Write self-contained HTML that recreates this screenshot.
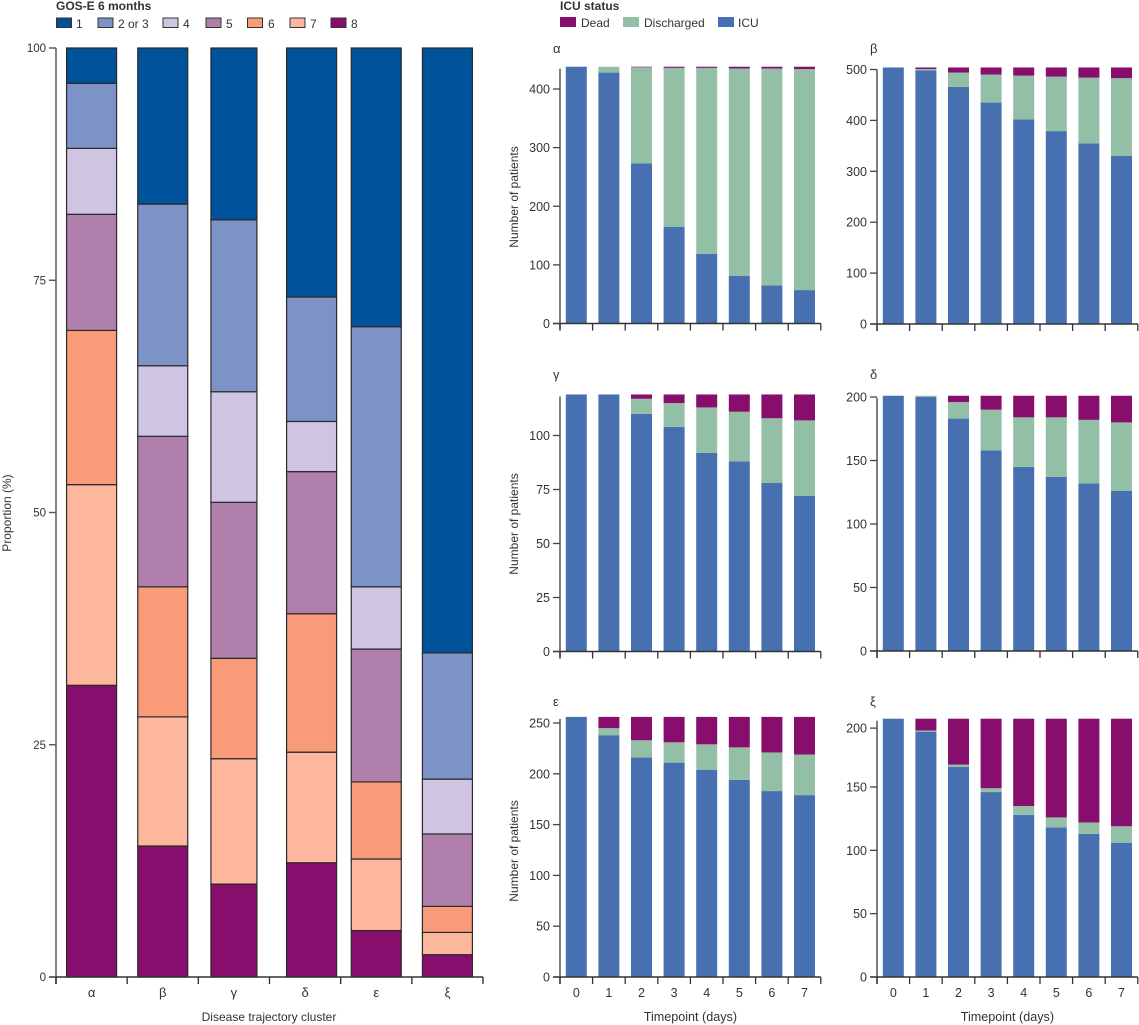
<!DOCTYPE html>
<html lang="en">
<head>
<meta charset="utf-8">
<title>GOS-E at 6 months and ICU status by disease trajectory cluster</title>
<style>
html,body{margin:0;padding:0;background:#fff;}
body{width:1139px;height:1025px;overflow:hidden;}
svg{display:block;}
text{font-family:"Liberation Sans",sans-serif;font-size:12px;fill:#333;}
.title{font-weight:bold;font-size:12px;}
.greek{font-size:13px;}
.tick-left{font-size:11.5px;}
.tick-right{font-size:12.5px;}
.time-title{font-size:12.6px;}
</style>
</head>
<body>
<svg id="figure" width="1139" height="1025" viewBox="0 0 1139 1025" xmlns="http://www.w3.org/2000/svg">
  <g>
    <text class="title" x="56" y="10">GOS-E 6 months</text>
    <g><rect x="56.5" y="18" width="15" height="9.5" fill="#00529b" stroke="#333"/><text x="76" y="28">1</text></g>
    <g><rect x="98" y="18" width="15" height="9.5" fill="#7d92c6" stroke="#333"/><text x="118" y="28">2 or 3</text></g>
    <g><rect x="163" y="18" width="15" height="9.5" fill="#cfc5e2" stroke="#333"/><text x="183" y="28">4</text></g>
    <g><rect x="206" y="18" width="15" height="9.5" fill="#b07fab" stroke="#333"/><text x="226" y="28">5</text></g>
    <g><rect x="247.5" y="18" width="15" height="9.5" fill="#f99a78" stroke="#333"/><text x="268" y="28">6</text></g>
    <g><rect x="290" y="18" width="15" height="9.5" fill="#fdb79c" stroke="#333"/><text x="310" y="28">7</text></g>
    <g><rect x="331" y="18" width="15" height="9.5" fill="#870e6d" stroke="#333"/><text x="351" y="28">8</text></g>
  </g>
  <g>
    <text class="title" x="560" y="10">ICU status</text>
    <g><rect x="560" y="17" width="16" height="10" fill="#870e6d"/><text x="581" y="27">Dead</text></g>
    <g><rect x="623" y="17" width="16" height="10" fill="#93bfa6"/><text x="644" y="27">Discharged</text></g>
    <g><rect x="718" y="17" width="16" height="10" fill="#4670b0"/><text x="738" y="27">ICU</text></g>
  </g>
  <text x="0" y="0" transform="translate(11,513) rotate(-90)" text-anchor="middle">Proportion (%)</text>
  <text x="269" y="1021" text-anchor="middle">Disease trajectory cluster</text>
</svg>
<script>
// ---- Left chart data (percentage of each GOS-E level, per cluster) ----
const clusterLabels = ['α', 'β', 'γ', 'δ', 'ε', 'ξ'];
const proportionTicks = [0, 25, 50, 75, 100];
const gos8 = [31.4, 14.1, 10.0, 12.3, 5.0, 2.4];
const gos7 = [21.6, 13.9, 13.5, 11.9, 7.7, 2.4];
const gos6 = [16.6, 14.0, 10.8, 14.9, 8.3, 2.8];
const gos5 = [12.5, 16.2, 16.8, 15.3, 14.3, 7.8];
const gos4 = [7.1, 7.6, 11.9, 5.4, 6.7, 5.9];
const gos2or3 = [7.0, 17.4, 18.5, 13.4, 28.0, 13.6];
const gos1 = [3.8, 16.8, 18.5, 26.8, 30.0, 65.1];

// ---- ICU panels data (number of patients, per day) ----
const timepoints = [0, 1, 2, 3, 4, 5, 6, 7];
const alphaIcu = [438, 428, 273, 165, 119, 81, 65, 57];
const alphaDischarged = [0, 10, 164, 271, 317, 354, 370, 377];
const alphaDead = [0, 0, 1, 2, 2, 3, 3, 4];
const alphaTicks = [0, 100, 200, 300, 400];
const betaIcu = [504, 498, 466, 435, 402, 379, 355, 330];
const betaDischarged = [0, 3, 28, 55, 86, 107, 129, 153];
const betaDead = [0, 3, 10, 14, 16, 18, 20, 21];
const betaTicks = [0, 100, 200, 300, 400, 500];
const gammaIcu = [119, 119, 110, 104, 92, 88, 78, 72];
const gammaDischarged = [0, 0, 7, 11, 21, 23, 30, 35];
const gammaDead = [0, 0, 2, 4, 6, 8, 11, 12];
const gammaTicks = [0, 25, 50, 75, 100];
const deltaIcu = [201, 200, 183, 158, 145, 137, 132, 126];
const deltaDischarged = [0, 1, 13, 32, 39, 47, 50, 54];
const deltaDead = [0, 0, 5, 11, 17, 17, 19, 21];
const deltaTicks = [0, 50, 100, 150, 200];
const epsilonIcu = [256, 238, 216, 211, 204, 194, 183, 179];
const epsilonDischarged = [0, 7, 17, 20, 25, 32, 38, 40];
const epsilonDead = [0, 11, 23, 25, 27, 30, 35, 37];
const epsilonTicks = [0, 50, 100, 150, 200, 250];
const xiIcu = [208, 197, 167, 146, 128, 118, 113, 106];
const xiDischarged = [0, 1, 2, 3, 7, 8, 9, 13];
const xiDead = [0, 10, 39, 59, 73, 82, 86, 89];
const xiTicks = [0, 50, 100, 150, 200];

const NS = 'http://www.w3.org/2000/svg';
const svg = document.getElementById('figure');

function node(parent, tag) {
  const el = document.createElementNS(NS, tag);
  parent.appendChild(el);
  return el;
}
function line(parent, x1, y1, x2, y2, color, width) {
  const el = node(parent, 'line');
  el.setAttribute('x1', x1);
  el.setAttribute('y1', y1);
  el.setAttribute('x2', x2);
  el.setAttribute('y2', y2);
  el.setAttribute('stroke', color);
  el.setAttribute('stroke-width', width);
  return el;
}
function label(parent, x, y, str, anchor) {
  const el = node(parent, 'text');
  el.setAttribute('x', x);
  el.setAttribute('y', y);
  el.setAttribute('text-anchor', anchor);
  el.textContent = str;
  return el;
}
function box(parent, x, y, w, h, fill) {
  const el = node(parent, 'rect');
  el.setAttribute('x', x);
  el.setAttribute('y', y);
  el.setAttribute('width', w);
  el.setAttribute('height', Math.max(h, 0));
  el.setAttribute('fill', fill);
  return el;
}

// ---- Left stacked chart ----
(function drawProportions() {
  const g = node(svg, 'g');
  
  
  const axisX = 56, axisEnd = 483, y0 = 977, yTop = 48;
  const y = v => y0 - v * (y0 - yTop) / 100;
  const band = (axisEnd - axisX) / clusterLabels.length;
  const series = [
    ['8', gos8, '#870e6d'], ['7', gos7, '#fdb79c'], ['6', gos6, '#f99a78'],
    ['5', gos5, '#b07fab'], ['4', gos4, '#cfc5e2'], ['2-or-3', gos2or3, '#7d92c6'],
    ['1', gos1, '#00529b']
  ];
  clusterLabels.forEach((c, i) => {
    let w = 50, cx = axisX + band * (i + 0.5);
    if (i === 2) w = 46;
    if (i === 3) cx += 6.5;
    let acc = 0;
    series.forEach(s => {
      const top = y(acc + s[1][i]);
      const bottom = y(acc);
      const r = box(g, cx - w / 2, top, w, bottom - top, s[2]);
      r.setAttribute('stroke', '#2a2a2a');
      r.setAttribute('stroke-width', '1.2');
      
      
      acc += s[1][i];
    });
  });
  const yAxis = line(g, axisX, yTop, axisX, y0 + 7, '#666', 1.6);
  
  
  const xAxis = line(g, axisX - 7, y0, axisEnd, y0, '#333', 1.4);
  
  
  proportionTicks.forEach(t => {
    const tk = line(g, axisX - 7, y(t), axisX, y(t), '#555', 1.4);
    
    
    const l = label(g, axisX - 10, y(t) + 4, String(t), 'end');
    l.setAttribute('class', 'tick-left');
    
    
  });
  for (let i = 0; i <= clusterLabels.length; i++) {
    const tk = line(g, axisX + band * i, y0, axisX + band * i, y0 + 7, '#333', 1.4);
    
    
  }
  clusterLabels.forEach((c, i) => {
    const l = label(g, axisX + band * (i + 0.5), 997, c, 'middle');
    l.setAttribute('class', 'greek');
    
    
  });
})();

// ---- ICU panels ----
function drawPanel(name, letter, axisX, icu, discharged, dead, ticks, yDomain, yRange) {
  const g = node(svg, 'g');
  
  
  const y = v => {
    let k = 0;
    while (k < yDomain.length - 2 && v > yDomain[k + 1]) k++;
    return yRange[k] + (v - yDomain[k]) * (yRange[k + 1] - yRange[k]) / (yDomain[k + 1] - yDomain[k]);
  };
  const y0 = y(0);
  const band = 32.6, barW = 21;
  timepoints.forEach((t, i) => {
    const x = axisX + band * (i + 0.5) - barW / 2;
    const a = y(icu[i]);
    const b = y(icu[i] + discharged[i]);
    const c = y(icu[i] + discharged[i] + dead[i]);
    const r1 = box(g, x, a, barW, y0 - a, '#4670b0');
    
    
    const r2 = box(g, x, b, barW, a - b, '#93bfa6');
    
    
    const r3 = box(g, x, c, barW, b - c, '#870e6d');
    
    
  });
  const maxV = Math.max(...icu.map((v, i) => v + discharged[i] + dead[i]));
  const yAxis = line(g, axisX, y(maxV) + 2, axisX, y0 + 7, '#555', 1.5);
  
  
  const end = axisX + band * timepoints.length;
  const xAxis = line(g, axisX - 7, y0, end, y0, '#333', 1.4);
  
  
  ticks.forEach(t => {
    const tk = line(g, axisX - 7, y(t), axisX, y(t), '#444', 1.3);
    
    
    const l = label(g, axisX - 10, y(t) + 4.5, String(t), 'end');
    l.setAttribute('class', 'tick-right');
    
    
  });
  for (let i = 0; i <= timepoints.length; i++) {
    const tk = line(g, axisX + band * i, y0, axisX + band * i, y0 + 7, '#333', 1.3);
    
    
  }
  const head = label(g, axisX - 7, yRange[0] < 400 ? 53 : (yRange[0] < 700 ? 379 : 706), letter, 'start');
  head.setAttribute('class', 'greek');
  
  
  return { g, axisX, band, y0 };
}
function addTimeAxis(p, name) {
  timepoints.forEach((t, i) => {
    const l = label(p.g, p.axisX + p.band * (i + 0.5), 997, String(t), 'middle');
    l.setAttribute('class', 'tick-right');
    
    
  });
  const title = label(p.g, p.axisX + p.band * 4, 1021, 'Timepoint (days)', 'middle');
  title.setAttribute('class', 'time-title');
  
  
}
function addYTitle(cy, name) {
  const t = label(svg, 0, 0, 'Number of patients', 'middle');
  t.setAttribute('transform', 'translate(518,' + cy + ') rotate(-90)');
  
  
}

const leftCol = 560, rightCol = 877;
const pAlpha = drawPanel('alpha', 'α', leftCol, alphaIcu, alphaDischarged, alphaDead, alphaTicks, [0, 400], [323.5, 89]);
const pBeta = drawPanel('beta', 'β', rightCol, betaIcu, betaDischarged, betaDead, betaTicks, [0, 500], [324, 69.5]);
const pGamma = drawPanel('gamma', 'γ', leftCol, gammaIcu, gammaDischarged, gammaDead, gammaTicks, [0, 100], [651.5, 435.5]);
const pDelta = drawPanel('delta', 'δ', rightCol, deltaIcu, deltaDischarged, deltaDead, deltaTicks, [0, 200], [651, 397]);
const pEpsilon = drawPanel('epsilon', 'ε', leftCol, epsilonIcu, epsilonDischarged, epsilonDead, epsilonTicks, [0, 250], [977, 723]);
const pXi = drawPanel('xi', 'ξ', rightCol, xiIcu, xiDischarged, xiDead, xiTicks, [0, 150, 208], [977, 787, 718.7]);
addTimeAxis(pEpsilon, 'epsilon');
addTimeAxis(pXi, 'xi');
addYTitle(197, 'alpha');
addYTitle(524, 'gamma');
addYTitle(851, 'epsilon');
</script>
</body>
</html>
